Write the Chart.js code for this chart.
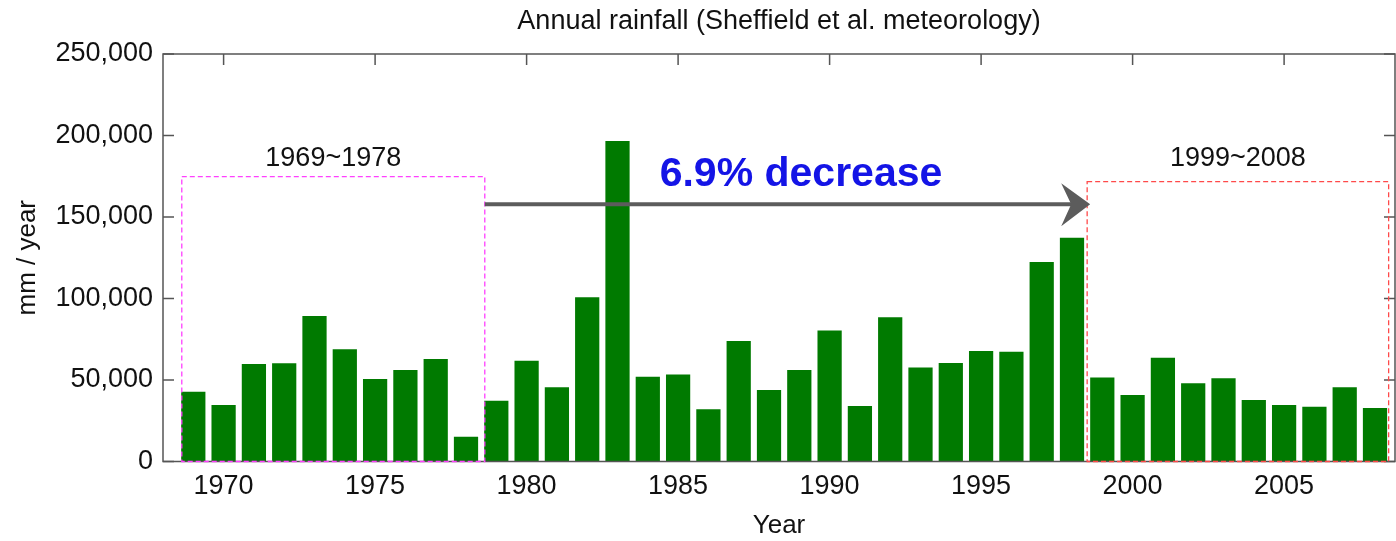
<!DOCTYPE html>
<html>
<head>
<meta charset="utf-8">
<script src="https://cdn.jsdelivr.net/npm/chart.js@4.4.1/dist/chart.umd.min.js"></script>
<style>
  html, body { margin: 0; padding: 0; background: #fff; }
</style>
</head>
<body>
<canvas id="rainfallChart" width="1396" height="541"></canvas>
<script>
const years = [
  1969, 1970, 1971, 1972, 1973, 1974, 1975, 1976, 1977, 1978,
  1979, 1980, 1981, 1982, 1983, 1984, 1985, 1986, 1987, 1988,
  1989, 1990, 1991, 1992, 1993, 1994, 1995, 1996, 1997, 1998,
  1999, 2000, 2001, 2002, 2003, 2004, 2005, 2006, 2007, 2008,
];
const rainfall = [
  42800, 34700, 59800, 60200, 89300, 68800, 50600, 56100, 62900, 15200,
  37300, 61800, 45500, 100700, 196600, 52000, 53300, 32000, 73900, 43900,
  56100, 80300, 34000, 88500, 57600, 60400, 67800, 67400, 122400, 137300,
  51600, 40800, 63700, 48000, 51000, 37700, 34700, 33600, 45500, 32800,
];
const xTicks = [1970, 1975, 1980, 1985, 1990, 1995, 2000, 2005];
const yTicks = [0, 50000, 100000, 150000, 200000, 250000];

// the two compared periods and the arrow between them
const earlyPeriod = { label: "1969~1978", from: 1968.62, to: 1978.62, top: 174800 };
const latePeriod = { label: "1999~2008", from: 1998.5, to: 2008.45, top: 171700 };
const trend = { label: "6.9% decrease", from: 1978.62, to: 1998.6, level: 157800 };
const title = "Annual rainfall (Sheffield et al. meteorology)";

const FONT = "'Liberation Sans', Arial, Helvetica, sans-serif";
const AXIS = "#555555";

const annotations = {
  id: "annotations",
  beforeDatasetsDraw(chart) {
    const { ctx, chartArea: a, scales: { x, y } } = chart;
    ctx.save();
    ctx.strokeStyle = AXIS;
    ctx.lineWidth = 1.5;
    ctx.beginPath();
    xTicks.forEach((v) => {
      const px = x.getPixelForValue(v);
      ctx.moveTo(px, a.top);
      ctx.lineTo(px, a.top + 11);
      ctx.moveTo(px, a.bottom);
      ctx.lineTo(px, a.bottom - 11);
    });
    yTicks.forEach((v) => {
      const py = y.getPixelForValue(v);
      ctx.moveTo(a.left, py);
      ctx.lineTo(a.left + 11, py);
      ctx.moveTo(a.right, py);
      ctx.lineTo(a.right - 11, py);
    });
    ctx.stroke();
    ctx.restore();
  },
  afterDatasetsDraw(chart) {
    const { ctx, chartArea: a, scales: { x, y } } = chart;
    ctx.save();

    // frame
    ctx.strokeStyle = AXIS;
    ctx.lineWidth = 1.5;
    ctx.strokeRect(a.left, a.top, a.right - a.left, a.bottom - a.top);

    // title, centred over the plot area
    ctx.fillStyle = "#111";
    ctx.font = "27px " + FONT;
    ctx.textAlign = "center";
    ctx.textBaseline = "middle";
    ctx.fillText(title, (a.left + a.right) / 2, 22);

    // dashed period boxes
    const box = (p, color) => {
      const x0 = x.getPixelForValue(p.from);
      const x1 = x.getPixelForValue(p.to);
      const y0 = y.getPixelForValue(p.top);
      const y1 = y.getPixelForValue(0);
      ctx.strokeStyle = color;
      ctx.lineWidth = 1.3;
      ctx.setLineDash([5, 3]);
      ctx.strokeRect(x0, y0, x1 - x0, y1 - y0);
      ctx.setLineDash([]);
      ctx.fillStyle = "#111";
      ctx.font = "27px " + FONT;
      ctx.fillText(p.label, (x0 + x1) / 2, 159);
    };
    box(earlyPeriod, "#ff40ff");
    box(latePeriod, "#ff4a4a");

    // arrow
    const ax0 = x.getPixelForValue(trend.from);
    const tip = x.getPixelForValue(trend.to);
    const ay = y.getPixelForValue(trend.level);
    ctx.strokeStyle = "#5c5c5c";
    ctx.fillStyle = "#5c5c5c";
    ctx.lineWidth = 4;
    ctx.beginPath();
    ctx.moveTo(ax0, ay);
    ctx.lineTo(tip - 16, ay);
    ctx.stroke();
    ctx.beginPath();
    ctx.moveTo(tip, ay);
    ctx.lineTo(tip - 29, ay - 21);
    ctx.lineTo(tip - 19, ay);
    ctx.lineTo(tip - 29, ay + 22);
    ctx.closePath();
    ctx.fill();

    ctx.fillStyle = "#1414e6";
    ctx.font = "bold 41px " + FONT;
    ctx.fillText(trend.label, 801, ay - 30);

    ctx.restore();
  },
};

new Chart(document.getElementById("rainfallChart"), {
  type: "bar",
  data: {
    datasets: [
      {
        data: years.map((yr, i) => ({ x: yr, y: rainfall[i] })),
        backgroundColor: "#007a00",
        borderWidth: 0,
        barPercentage: 0.8,
        categoryPercentage: 1,
      },
    ],
  },
  options: {
    responsive: false,
    animation: false,
    layout: { padding: { top: 54, right: 1, left: 0, bottom: 0 } },
    plugins: {
      legend: { display: false },
      tooltip: { enabled: false },
    },
    scales: {
      x: {
        type: "linear",
        offset: false,
        min: 1968,
        max: 2008.66,
        afterBuildTicks: (s) => {
          s.ticks = xTicks.map((v) => ({ value: v }));
        },
        afterFit: (s) => {
          s.height = 79.5;
        },
        grid: { display: false, drawTicks: false, offset: false },
        border: { display: false },
        ticks: {
          autoSkip: false,
          maxRotation: 0,
          padding: 9,
          color: "#111",
          font: { family: FONT, size: 27 },
          callback: (v) => String(v),
        },
        title: {
          display: true,
          text: "Year",
          color: "#111",
          font: { family: FONT, size: 26 },
          padding: { top: 0, bottom: 0 },
        },
      },
      y: {
        min: 0,
        max: 250000,
        afterBuildTicks: (s) => {
          s.ticks = yTicks.map((v) => ({ value: v }));
        },
        afterFit: (s) => {
          s.width = 163;
        },
        grid: { display: false, drawTicks: false },
        border: { display: false },
        ticks: {
          padding: 10,
          color: "#111",
          font: { family: FONT, size: 27 },
          callback: (v) => v.toLocaleString("en-US"),
        },
        title: {
          display: true,
          text: "mm / year",
          color: "#111",
          font: { family: FONT, size: 26 },
          padding: { top: 12, bottom: 0 },
        },
      },
    },
  },
  plugins: [annotations],
});
</script>
</body>
</html>
